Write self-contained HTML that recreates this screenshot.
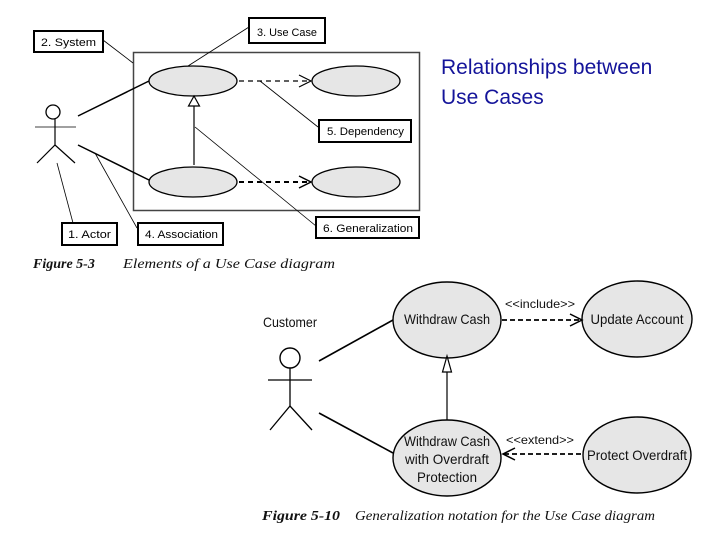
<!DOCTYPE html>
<html><head><meta charset="utf-8"><style>
html,body{margin:0;padding:0;background:#fff;}
svg{display:block;}
</style></head><body>
<svg width="720" height="540" viewBox="0 0 720 540" xmlns="http://www.w3.org/2000/svg" font-family="'Liberation Sans', sans-serif">
<rect width="720" height="540" fill="#fff"/>
<!-- Top figure -->
<g stroke="#000" fill="none">
  <rect x="133.5" y="52.5" width="286" height="158" stroke="#444" stroke-width="1.5"/>
  <ellipse cx="193" cy="81" rx="44" ry="15" fill="#e6e6e6" stroke-width="1.3"/>
  <ellipse cx="356" cy="81" rx="44" ry="15" fill="#e6e6e6" stroke-width="1.3"/>
  <ellipse cx="193" cy="182" rx="44" ry="15" fill="#e6e6e6" stroke-width="1.3"/>
  <ellipse cx="356" cy="182" rx="44" ry="15" fill="#e6e6e6" stroke-width="1.3"/>
  <!-- actor -->
  <circle cx="53" cy="112" r="7" stroke-width="1.3"/>
  <line x1="35" y1="127" x2="76" y2="127" stroke-width="0.8"/>
  <line x1="55" y1="119" x2="55" y2="145" stroke-width="1.2"/>
  <polyline points="37,163 55,145 75,163" stroke-width="1.2"/>
  <!-- associations -->
  <line x1="78" y1="116" x2="149" y2="81" stroke-width="1.5"/>
  <line x1="78" y1="145" x2="149" y2="180" stroke-width="1.5"/>
  <!-- generalization -->
  <line x1="194" y1="104" x2="194" y2="165" stroke-width="1.2"/>
  <polygon points="194,96 188.5,106 199.5,106" fill="#fff" stroke-width="1.2"/>
  <!-- dependencies -->
  <line x1="239" y1="81" x2="311" y2="81" stroke-width="1.2" stroke-dasharray="5,4"/>
  <polyline points="299,75 311,81 299,87" stroke-width="1.2"/>
  <line x1="239" y1="182" x2="311" y2="182" stroke-width="2" stroke-dasharray="5,4"/>
  <polyline points="299,176 311,182 299,188" stroke-width="1.5"/>
  <!-- callout lines -->
  <line x1="103" y1="40" x2="133" y2="63" stroke-width="0.8"/>
  <line x1="249" y1="27" x2="188" y2="66" stroke-width="0.8"/>
  <line x1="260" y1="81" x2="318" y2="127" stroke-width="0.8"/>
  <line x1="195" y1="127" x2="316" y2="226" stroke-width="0.8"/>
  <line x1="57" y1="163" x2="73" y2="223" stroke-width="0.8"/>
  <line x1="95" y1="153" x2="137" y2="228" stroke-width="0.8"/>
  <!-- callout boxes -->
  <rect x="34" y="31" width="69" height="21" stroke-width="2" fill="#fff"/>
  <rect x="249" y="18" width="76" height="25" stroke-width="2" fill="#fff"/>
  <rect x="319" y="120" width="92" height="22" stroke-width="2" fill="#fff"/>
  <rect x="316" y="217" width="103" height="21" stroke-width="2" fill="#fff"/>
  <rect x="62" y="223" width="55" height="22" stroke-width="2" fill="#fff"/>
  <rect x="138" y="223" width="85" height="22" stroke-width="2" fill="#fff"/>
</g>
<g font-size="11" fill="#000">
  <text x="41" y="46" textLength="55" lengthAdjust="spacingAndGlyphs">2. System</text>
  <text x="257" y="36" textLength="60" lengthAdjust="spacingAndGlyphs">3. Use Case</text>
  <text x="327" y="135" textLength="77" lengthAdjust="spacingAndGlyphs">5. Dependency</text>
  <text x="323" y="232" textLength="90" lengthAdjust="spacingAndGlyphs">6. Generalization</text>
  <text x="68" y="238" textLength="43" lengthAdjust="spacingAndGlyphs">1. Actor</text>
  <text x="145" y="238" textLength="73" lengthAdjust="spacingAndGlyphs">4. Association</text>
</g>
<text x="33" y="268" font-family="'Liberation Serif', serif" font-style="italic" font-size="14" fill="#111"><tspan font-weight="bold">Figure 5-3</tspan><tspan x="123" textLength="212" lengthAdjust="spacingAndGlyphs">Elements of a Use Case diagram</tspan></text>

<!-- Title -->
<text font-size="21" fill="#14149a"><tspan x="441" y="74">Relationships between</tspan><tspan x="441" y="104">Use Cases</tspan></text>

<!-- Bottom figure -->
<g stroke="#000" fill="none">
  <ellipse cx="447" cy="320" rx="54" ry="38" fill="#e6e6e6" stroke-width="1.4"/>
  <ellipse cx="637" cy="319" rx="55" ry="38" fill="#e6e6e6" stroke-width="1.4"/>
  <ellipse cx="447" cy="458" rx="54" ry="38" fill="#e6e6e6" stroke-width="1.4"/>
  <ellipse cx="637" cy="455" rx="54" ry="38" fill="#e6e6e6" stroke-width="1.4"/>
  <circle cx="290" cy="358" r="10" stroke-width="1.4"/>
  <line x1="268" y1="380" x2="312" y2="380" stroke-width="1.3"/>
  <line x1="290" y1="368" x2="290" y2="406" stroke-width="1.3"/>
  <polyline points="270,430 290,406 312,430" stroke-width="1.3"/>
  <line x1="319" y1="361" x2="393" y2="320" stroke-width="1.6"/>
  <line x1="319" y1="413" x2="393" y2="453" stroke-width="1.6"/>
  <line x1="447" y1="372" x2="447" y2="420" stroke-width="1.2"/>
  <polygon points="447,356 442.5,372 451.5,372" fill="#fff" stroke-width="1.2"/>
  <line x1="502" y1="320" x2="581" y2="320" stroke-width="1.8" stroke-dasharray="5,3"/>
  <polyline points="570,314 582,320 570,326" stroke-width="1.5"/>
  <line x1="504" y1="454" x2="583" y2="454" stroke-width="1.8" stroke-dasharray="5,3"/>
  <polyline points="515,448 503,454 515,460" stroke-width="1.5"/>
</g>
<g font-size="14" fill="#111" text-anchor="middle">
  <text x="290" y="327" textLength="54" lengthAdjust="spacingAndGlyphs">Customer</text>
  <text x="447" y="324" textLength="86" lengthAdjust="spacingAndGlyphs">Withdraw Cash</text>
  <text x="637" y="324" textLength="93" lengthAdjust="spacingAndGlyphs">Update Account</text>
  <text x="447" y="446" textLength="86" lengthAdjust="spacingAndGlyphs">Withdraw Cash</text>
  <text x="447" y="464" textLength="84" lengthAdjust="spacingAndGlyphs">with Overdraft</text>
  <text x="447" y="482" textLength="60" lengthAdjust="spacingAndGlyphs">Protection</text>
  <text x="637" y="460" textLength="100" lengthAdjust="spacingAndGlyphs">Protect Overdraft</text>
  <text x="540" y="308" font-size="12" textLength="70" lengthAdjust="spacingAndGlyphs">&lt;&lt;include&gt;&gt;</text>
  <text x="540" y="444" font-size="12" textLength="68" lengthAdjust="spacingAndGlyphs">&lt;&lt;extend&gt;&gt;</text>
</g>
<text x="262" y="520" font-family="'Liberation Serif', serif" font-style="italic" font-size="14" fill="#111"><tspan font-weight="bold" textLength="78" lengthAdjust="spacingAndGlyphs">Figure 5-10</tspan><tspan x="355" textLength="300" lengthAdjust="spacingAndGlyphs">Generalization notation for the Use Case diagram</tspan></text>
</svg>
</body></html>
